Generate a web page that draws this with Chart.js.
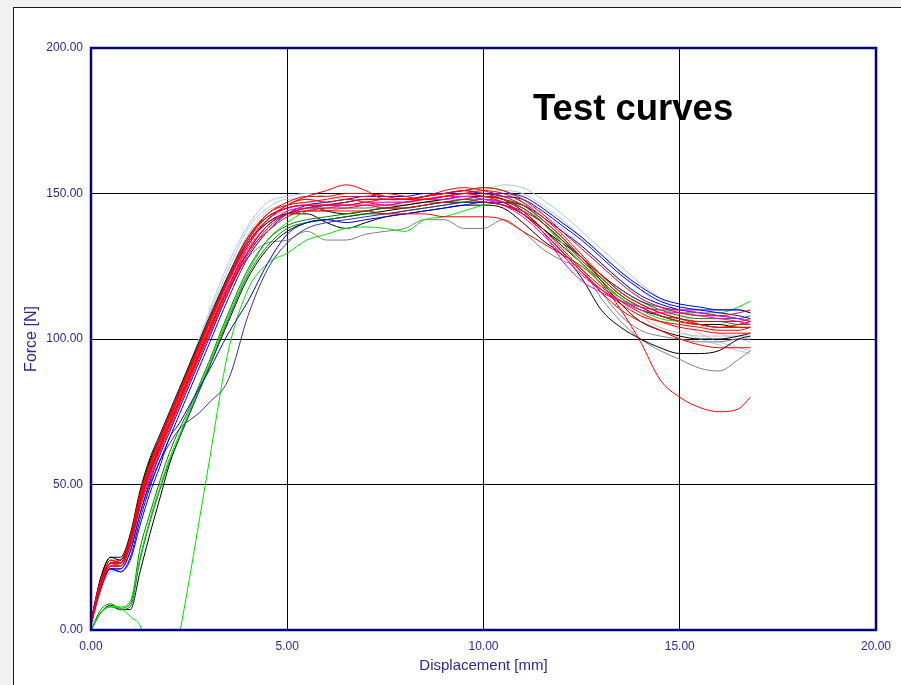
<!DOCTYPE html>
<html>
<head>
<meta charset="utf-8">
<script src="https://cdn.jsdelivr.net/npm/chart.js@4"></script>
<style>
  html, body { margin: 0; padding: 0; }
  body { width: 901px; height: 685px; overflow: hidden; position: relative; background: #f2f2f2; }
  #frame { position: absolute; left: 13px; top: 7px; width: 900px; height: 690px; background: #fff;
           border-left: 1.5px solid #1a1a1a; border-top: 1.5px solid #1a1a1a; }
  #c { position: absolute; left: 0; top: 0; }
  #note { position: absolute; left: 533px; top: 90px; font: bold 36.5px "Liberation Sans", Arial, sans-serif;
          line-height: 36px; color: #000; white-space: nowrap; }
</style>
</head>
<body>
<div id="frame"></div>
<canvas id="c" width="901" height="685"></canvas>
<div id="note">Test curves</div>
<script>
// Displacement grid [mm] shared by all test curves
const displacement = [0, 0.25, 0.5, 0.75, 1.0, 1.25, 1.5, 1.75, 2.0, 2.25, 2.5, 2.75, 3.0, 3.5, 4.0, 4.5,
  5.0, 5.5, 6.0, 6.5, 7.0, 7.5, 8.0, 8.5, 9.0, 9.5, 10.0, 10.5, 11.0, 11.5, 12.0, 12.5, 13.0, 13.5, 14.0, 14.5,
  15.0, 15.5, 16.0, 16.5, 16.8];

// Force [N] of each test curve at the displacement grid
const red1 = [3,17,24,23,31,46,56,65,73,81,89,97,105,120,133,141, 146,148,147,148,147,146,147,148,149,150,149,148,145,140,134,127,121,115,111,108,106,105,104,104,104];
const red2 = [2,15,22,22,29,43,54,63,71,79,87,95,103,118,132,141, 146,149,151,153,151,148,148,149,151,152,151,149,146,141,135,128,122,116,112,109,107,106,106,106,107];
const red3 = [3,17,23,24,32,47,57,66,74,82,90,98,106,121,134,142, 145,146,146,147,148,148,148,149,150,151,150,148,144,138,131,124,118,113,109,106,104,103,102,102,102];
const red4 = [2,15,22,23,30,44,54,62,70,78,86,94,102,117,130,139, 143,144,145,145,146,145,145,146,147,148,147,146,143,137,130,123,117,112,108,106,105,104,103,103,104];
const red5 = [2,16,23,23,30,44,55,63,71,79,87,95,103,118,130,137, 142,144,144,144,144,143,143,143,142,142,142,141,137,133,129,125,119,110,99,86,80,76.5,75,76,80];
const red6 = [3,16,23,23,31,45,55,64,72,80,88,96,104,120,134,143, 146,147,148,149,149,150,149,148,149,150,151,150,147,142,136,129,122,116,112,109,107,105,104,105,106];
const red7 = [2,16,22,22,29,42,52,61,69,77,85,93,101,116,129,138, 143,145,146,146,147,148,148,148,149,150,149,147,143,137,130,123,116,110,106,103,100,98,97,97,97];
const red8 = [3,17,23,23,31,45,56,65,73,81,89,97,105,121,135,143, 147,149,149,150,150,149,148,149,150,151,152,151,148,143,137,131,125,119,114,111,109,108,108,109,110];
const magenta1 = [2,16,23,23,30,44,54,63,71,79,87,95,103,119,133,141, 145,146,146,146,147,147,147,148,149,149,148,146,142,136,129,122,117,113,110,109,109,108,107,106,105];
const magenta2 = [2,15,22,22,29,43,53,62,70,78,86,94,102,118,131,139, 144,145,145,146,146,146,147,148,148,149,148,147,143,137,127,120,116,113,111,110,110,109,108,107,106];
const blue1 = [2,15,21,20,25,38,49,58,66,74,82,90,98,114,128,137, 143,146,147,148,149,149,149,150,150,150,150,149,148,144,139,134,128,122,117,113,111,110,109,108,107];
const blue2 = [2,14,21,21,27,40,51,60,68,76,84,92,100,116,130,139, 143,145,146,147,148,148,148,149,150,151,150,150,149,145,140,135,129,123,118,114,112,111,110,110,109];
const blue3 = [2,15,21,20,24,36,47,56,66,71,77,83,89,102,113,126, 136,140,141,140,141,142,143,144,145,146,147,147,146,142,137,132,126,120,115,112,110,109,108,107,106];
const navy1 = [2,15,21,21,27,40,50,58,64,69,72,74.5,78,86,108,124, 133,138,140,141,142,143,144,145,146,147,147,146,144,140,134,128,122,117,113,111,110,110,110,110,109];
const green1 = [0,6,8,8,10,25,38,49,59,67,75,83,91,108,123,134, 140,144,146,147,148,148,148,149,150,151,152,151,147,140,133,126,119,114,111,110,109,109,109,111,113];
const green2 = [0,6,8,7.5,4.6,1.5,-8,null,null,-2,17,37,57,96,117,126, 129.5,134,136,138,138.5,138,137,141,142,144,146,147,145,140,133,126,120,114,110,107,106,105,104,104,104];
const darkGreen1 = [0,7,9,7.5,9,28,40,51,61,69,76,84,92,109,124,134, 139,141,142,143,144,145,145,146,147,148,149,148,146,141,135,128,121,115,111,108,107,106,106,105,105];
const darkGreen2 = [0,6,8,7,8,24,37,48,58,66,74,82,90,107,122,132, 138,140,141,142,143,143,144,145,146,147,148,147,145,140,134,128,122,117,113,110,108,107,107,107,108];
const black1 = [3,18,25,25,33,48,59,67,75,83,91,99,107,122,135,142, 145,146,144,143,144,145,146,147,148,149,149,148,144,138,133,128,120,112,106,103,101,100,100,101,102];
const black2 = [3,18,25,24,32,47,58,66,74,82,90,98,106,121,133,140, 143,143,140,138,140,142,143,144,145,146,146,145,140,134,129,121,110,104,100,97,95,95,96,100,101];
const black3 = [0,6,8.5,7,7,20,33,45,57,66,74,82,90,106,121,131, 137,140,141,142,143,144,145,146,147,147,147,146,143,138,132,126,120,114,110,108,106,105,105,104,104];
const grey1 = [2,16,23,24,31,45,55,63,71,79,87,95,102,117,128,133, 134,137,134,134,136,137,138,141,141,138,138,141,137,131,127,124,114,106,100,96,93,90,89,93,96];
const grey2 = [3,17,24,24,32,46,57,65,73,81,89,97,105,120,132,140, 143,144,144,145,145,146,146,147,147,148,148,147,143,137,130,124,116,108,103,101,100,99,99,100,100];
const silver1 = [3,17,24,24,32,47,58,66,74,82,90,98,106,121,134,141, 144,145,145,146,146,147,147,148,148,149,149,148,145,140,134,127,120,113,108,104,102,101,101,101,101];
const lightBlue1 = [2,14,21,22,30,44,55,64,73,82,91,100,109,126,139,147, 149,150,149,148,148,148,147,148,149,150,151,153,152,148,143,137,131,125,119,114,109,105,102,100,99];
const lightBlue2 = [2,14,20,21,29,43,54,63,72,81,90,99,108,124,138,145, 148,148,147,146,146,147,147,147,148,149,150,151,150,146,141,135,129,123,117,111,106,102,99,97,96];
const lightBlue3 = [1,13,20,21,28,42,53,62,71,79,88,97,106,122,136,144, 146,147,146,145,145,145,146,147,148,148,149,149,147,143,138,132,126,120,114,108,103,100,98,96,95];

const xTickLabels = ['0.00', '5.00', '10.00', '15.00', '20.00'];
const yTickLabels = ['0.00', '50.00', '100.00', '150.00', '200.00'];

// drawing order: first listed is drawn on top
const curves = [
  [red1, '#ff0000'], [red2, '#ff0000'], [red3, '#ff0000'], [red4, '#ff0000'],
  [red5, '#ff0000'], [red6, '#ff0000'], [red7, '#ff0000'], [red8, '#ff0000'],
  [magenta1, '#ff00ff'], [magenta2, '#ff00ff'],
  [blue1, '#0000ff'], [blue2, '#0000ff'], [blue3, '#0000ff'], [navy1, '#3333a0'],
  [green1, '#00e000'], [green2, '#00e000'], [darkGreen1, '#008000'], [darkGreen2, '#008000'],
  [black1, '#000000'], [black2, '#000000'], [black3, '#000000'],
  [grey1, '#808080'], [grey2, '#808080'], [silver1, '#b8b8b8'],
  [lightBlue1, '#a6caf0'], [lightBlue2, '#a6caf0'], [lightBlue3, '#a6caf0']
];

const labelColor = '#2a2a90';
const fontFamily = '"Liberation Sans", Arial, sans-serif';

const plotFrame = {
  id: 'plotFrame',
  afterDraw(chart) {
    const { ctx, chartArea: a } = chart;
    ctx.save();
    ctx.strokeStyle = '#00008b';
    ctx.lineWidth = 2.5;
    ctx.strokeRect(a.left, a.top, a.right - a.left, a.bottom - a.top);
    ctx.restore();
  }
};

new Chart(document.getElementById('c'), {
  type: 'line',
  data: {
    datasets: curves.map(([vals, color], k) => ({
      label: 'Test ' + (k + 1),
      data: displacement.map((x, i) => ({ x: x, y: vals[i] })),
      borderColor: color,
      backgroundColor: color,
      borderWidth: 1,
      pointRadius: 0,
      fill: false,
      spanGaps: false,
      cubicInterpolationMode: 'monotone'
    }))
  },
  options: {
    responsive: false,
    animation: false,
    devicePixelRatio: 1,
    layout: { padding: { left: 0, right: 25, top: 48, bottom: 0 } },
    plugins: { legend: { display: false }, tooltip: { enabled: false } },
    scales: {
      x: {
        type: 'linear', min: 0, max: 20,
        afterFit: s => { s.height = 55; },
        border: { display: false },
        grid: { color: '#000', lineWidth: 1, drawTicks: false },
        ticks: {
          stepSize: 5, padding: 9, maxRotation: 0, autoSkip: false,
          color: labelColor, font: { family: fontFamily, size: 12 },
          callback: (v, i) => xTickLabels[i]
        },
        title: {
          display: true, text: 'Displacement [mm]', color: labelColor,
          font: { family: fontFamily, size: 15 }, padding: { top: 0, bottom: 10 }
        }
      },
      y: {
        type: 'linear', min: 0, max: 200,
        afterFit: s => { s.width = 91; },
        border: { display: false },
        grid: { color: '#000', lineWidth: 1, drawTicks: false },
        ticks: {
          stepSize: 50, padding: 8,
          color: labelColor, font: { family: fontFamily, size: 12 },
          callback: (v, i) => yTickLabels[i]
        },
        title: {
          display: true, text: 'Force [N]', color: labelColor,
          font: { family: fontFamily, size: 16 }, padding: { top: 22, bottom: 0 }
        }
      }
    }
  },
  plugins: [plotFrame]
});
</script>
</body>
</html>
